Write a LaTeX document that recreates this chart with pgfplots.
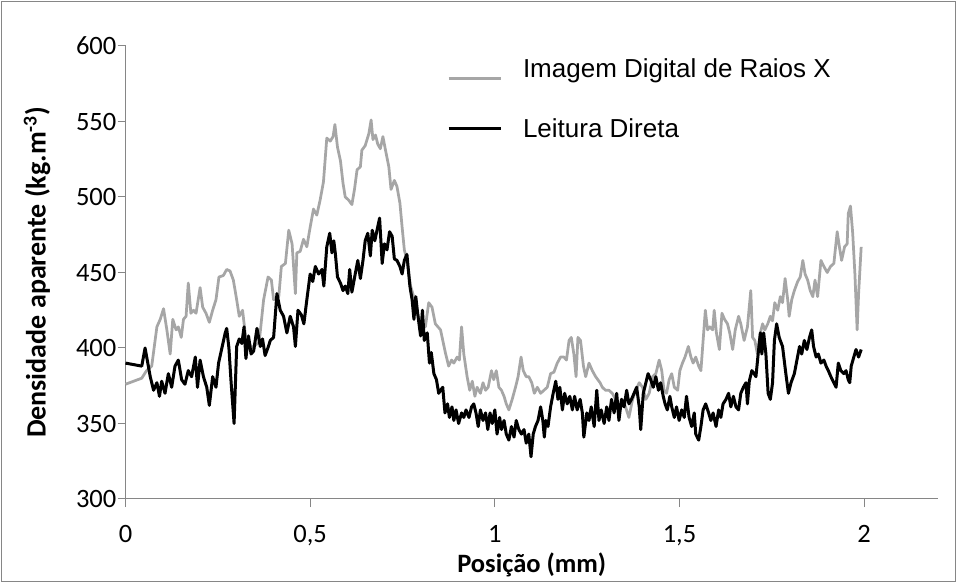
\documentclass[border=0pt]{standalone}
\usepackage{pgfplots}
\pgfplotsset{compat=1.18}
\usepackage{fontspec}
\setmainfont{Carlito}
\newfontfamily\arialfont{Liberation Sans}
\definecolor{axisgray}{RGB}{134,134,134}
\definecolor{linegray}{RGB}{166,166,166}
\begin{document}
\begin{tikzpicture}[x=1pt,y=1pt]
\useasboundingbox (0,0) rectangle (957,583);
\draw[axisgray, line width=1pt] (1.5,1.5) rectangle (955.5,581.5);
\begin{axis}[
  at={(125.5pt,84pt)}, anchor=south west,
  scale only axis, width=812.5pt, height=453pt,
  xmin=0, xmax=2.2, ymin=300, ymax=600,
  axis x line=bottom, axis y line=left,
  axis line style={axisgray, line width=1pt, -},
  xtick={0,0.5,1,1.5,2}, xticklabels={0,{0,5},1,{1,5},2},
  ytick={300,350,400,450,500,550,600},
  tick align=outside, major tick length=8pt,
  tick style={axisgray, line width=1pt},
  /pgf/number format/assume math mode=true,
  ticklabel style={font=\fontsize{26.5}{30}\selectfont},
  yticklabel style={inner sep=0pt, anchor=east, xshift=-1pt},
  xticklabel style={inner sep=0pt, anchor=north, yshift=-18pt},
  xlabel={\textbf{Posição (mm)}},
  ylabel={\textbf{Densidade aparente (kg.m\textsuperscript{-3})}},
  every axis x label/.style={at={(axis description cs:0.5,0)}, anchor=center, yshift=-66pt, font=\fontsize{26.5}{30}\selectfont},
  every axis y label/.style={at={(axis description cs:-0.1089,0.5)}, anchor=center, rotate=90, font=\fontsize{28}{32}\selectfont},
  legend style={at={(rel axis cs:0.3957,0.972)}, anchor=north west, draw=none, fill=none,
    inner sep=0pt, outer sep=0pt, row sep=35.8pt,
    nodes={inner sep=0pt, text height=19pt, text depth=5.5pt},
    font=\arialfont\fontsize{26}{31}\selectfont,
    /tikz/every odd column/.append style={column sep=21pt}},
  legend cell align=left,
  legend image code/.code={\draw[#1] (0pt,0pt) -- (52pt,0pt);},
  clip=false,
]
\addplot[linegray, line width=2.75pt, line join=round, forget plot] coordinates {
(0.000,376) (0.044,380) (0.057,385) (0.071,388) (0.085,414) (0.094,419) (0.103,426) (0.112,412) (0.121,396) (0.128,419)
(0.137,412) (0.143,414) (0.151,407) (0.157,419) (0.164,421) (0.170,443) (0.177,423) (0.184,425) (0.191,423) (0.202,440)
(0.209,427) (0.218,423) (0.227,417) (0.236,425) (0.245,432) (0.253,447) (0.265,448) (0.274,452) (0.283,451) (0.292,445)
(0.301,432) (0.308,421) (0.317,425) (0.324,410) (0.333,404) (0.342,400) (0.352,402) (0.362,404) (0.374,432) (0.386,447)
(0.395,445) (0.401,432) (0.415,434) (0.422,454) (0.433,456) (0.442,478) (0.451,469) (0.460,436) (0.464,463) (0.473,464)
(0.482,472) (0.491,467) (0.500,480) (0.509,492) (0.518,488) (0.527,498) (0.536,510) (0.545,539) (0.5545,537) (0.562,540)
(0.567,548) (0.574,533) (0.582,524) (0.589,509) (0.595,500) (0.604,498) (0.613,495) (0.620,505) (0.627,518) (0.636,520)
(0.640,531) (0.649,534) (0.659,542) (0.665,551) (0.670,538) (0.677,541) (0.683,535) (0.690,532) (0.697,540) (0.704,531)
(0.713,520) (0.719,505) (0.728,511) (0.735,507) (0.743,496) (0.749,480) (0.755,465) (0.762,458) (0.772,441) (0.785,430)
(0.799,414) (0.812,414) (0.821,430) (0.830,427) (0.839,416) (0.853,412) (0.866,397) (0.875,388) (0.883,392) (0.889,390)
(0.898,394) (0.904,392) (0.910,414) (0.916,396) (0.925,381) (0.932,372) (0.939,378) (0.946,368) (0.952,374) (0.961,370)
(0.968,377) (0.975,372) (0.982,374) (0.991,385) (0.997,379) (1.004,385) (1.011,374) (1.018,372) (1.025,368) (1.031,363)
(1.038,359) (1.047,366) (1.056,374) (1.063,381) (1.071,394) (1.077,385) (1.085,381) (1.092,381) (1.100,377) (1.107,370)
(1.115,374) (1.124,370) (1.133,372) (1.142,374) (1.151,383) (1.160,384) (1.169,390) (1.178,394) (1.187,394) (1.194,392)
(1.201,405) (1.207,407) (1.214,396) (1.220,381) (1.225,407) (1.232,405) (1.240,388) (1.246,381) (1.255,390) (1.264,385)
(1.273,381) (1.285,377) (1.291,374) (1.300,372) (1.309,372) (1.318,370) (1.327,366) (1.336,361) (1.345,366) (1.354,361)
(1.363,354) (1.373,366) (1.382,372) (1.391,377) (1.400,374) (1.409,366) (1.418,370) (1.427,381) (1.436,383) (1.445,392)
(1.452,385) (1.458,372) (1.465,370) (1.472,379) (1.479,383) (1.486,374) (1.495,372) (1.501,385) (1.508,390) (1.515,394)
(1.524,401) (1.531,394) (1.537,390) (1.544,394) (1.552,388) (1.558,385) (1.564,405) (1.570,425) (1.576,412) (1.582,414)
(1.590,412) (1.594,425) (1.600,410) (1.608,399) (1.615,423) (1.622,419) (1.630,416) (1.636,410) (1.644,399) (1.651,412)
(1.660,421) (1.666,416) (1.675,405) (1.684,414) (1.693,438) (1.698,407) (1.704,405) (1.711,396) (1.719,410) (1.725,416)
(1.731,412) (1.739,416) (1.746,421) (1.752,418) (1.758,430) (1.766,425) (1.773,434) (1.779,430) (1.786,446) (1.793,432)
(1.797,421) (1.804,432) (1.811,438) (1.820,444) (1.827,447) (1.834,458) (1.840,449) (1.847,445) (1.854,438) (1.861,434)
(1.867,445) (1.874,434) (1.883,458) (1.891,454) (1.900,450) (1.909,454) (1.918,456) (1.927,477) (1.933,467) (1.939,458)
(1.947,467) (1.954,469) (1.957,489) (1.963,494) (1.969,476) (1.975,449) (1.981,412) (1.985,436) (1.992,467)
};
\addplot[black, line width=3pt, line join=round, forget plot] coordinates {
(0.000,390) (0.044,388) (0.053,400) (0.067,381) (0.076,372) (0.085,377) (0.092,368) (0.098,378) (0.107,370) (0.116,383)
(0.125,374) (0.134,388) (0.143,392) (0.152,379) (0.161,376) (0.170,385) (0.179,381) (0.189,394) (0.195,374) (0.202,392)
(0.211,381) (0.220,374) (0.227,362) (0.236,381) (0.245,374) (0.252,390) (0.261,400) (0.270,410) (0.274,413) (0.280,400)
(0.286,377) (0.294,350) (0.301,401) (0.308,406) (0.315,403) (0.321,414) (0.326,393) (0.333,408) (0.340,396) (0.347,398)
(0.356,413) (0.365,401) (0.371,406) (0.378,395) (0.387,401) (0.392,405) (0.401,407) (0.410,436) (0.419,425) (0.428,421)
(0.437,410) (0.446,421) (0.455,414) (0.460,401) (0.467,425) (0.476,422) (0.483,416) (0.491,432) (0.500,449) (0.507,444)
(0.514,454) (0.523,449) (0.532,452) (0.537,441) (0.545,467) (0.553,476) (0.559,463) (0.564,471) (0.568,463) (0.574,447)
(0.582,443) (0.589,438) (0.595,441) (0.602,436) (0.607,452) (0.613,437) (0.622,449) (0.629,458) (0.636,446) (0.643,458)
(0.649,471) (0.656,476) (0.663,461) (0.668,478) (0.675,471) (0.681,478) (0.688,486) (0.695,456) (0.701,469) (0.708,465)
(0.715,477) (0.722,474) (0.728,459) (0.735,458) (0.743,454) (0.749,449) (0.755,458) (0.762,462) (0.770,441) (0.776,432)
(0.781,419) (0.786,434) (0.791,423) (0.799,408) (0.804,425) (0.809,405) (0.817,410) (0.823,390) (0.828,397) (0.835,383)
(0.842,379) (0.848,370) (0.853,372) (0.859,374) (0.865,357) (0.872,363) (0.877,354) (0.884,361) (0.889,352) (0.895,359)
(0.902,350) (0.910,357) (0.916,354) (0.922,359) (0.930,354) (0.937,361) (0.943,363) (0.949,357) (0.955,348) (0.961,359)
(0.968,352) (0.975,357) (0.981,346) (0.987,357) (0.993,350) (1.000,359) (1.006,343) (1.013,354) (1.018,346) (1.025,352)
(1.031,343) (1.038,339) (1.045,348) (1.052,341) (1.058,352) (1.065,346) (1.072,343) (1.079,346) (1.085,337) (1.092,343)
(1.098,328) (1.104,343) (1.110,348) (1.117,352) (1.124,361) (1.130,352) (1.134,341) (1.138,352) (1.144,348) (1.151,361)
(1.158,370) (1.165,378) (1.171,366) (1.176,374) (1.183,359) (1.189,370) (1.196,363) (1.203,368) (1.210,359) (1.216,368)
(1.223,359) (1.231,366) (1.237,357) (1.241,341) (1.249,357) (1.255,352) (1.261,361) (1.269,348) (1.276,372) (1.282,352)
(1.288,359) (1.296,350) (1.303,361) (1.309,352) (1.316,366) (1.323,357) (1.330,370) (1.336,352) (1.343,366) (1.350,361)
(1.357,372) (1.363,363) (1.370,366) (1.377,370) (1.384,374) (1.391,361) (1.395,346) (1.402,370) (1.409,377) (1.415,383)
(1.422,379) (1.429,374) (1.436,381) (1.443,372) (1.449,377) (1.456,368) (1.461,363) (1.467,359) (1.474,368) (1.479,361)
(1.486,354) (1.492,361) (1.499,352) (1.506,359) (1.513,354) (1.519,368) (1.526,354) (1.533,348) (1.540,357) (1.544,343)
(1.552,339) (1.558,348) (1.564,359) (1.571,363) (1.579,357) (1.585,352) (1.591,357) (1.599,348) (1.606,359) (1.612,354)
(1.618,363) (1.626,366) (1.633,370) (1.639,361) (1.646,368) (1.653,361) (1.660,359) (1.666,370) (1.673,374) (1.680,377)
(1.684,363) (1.689,378) (1.696,385) (1.702,383) (1.707,381) (1.713,396) (1.719,410) (1.723,396) (1.728,410) (1.734,396)
(1.740,370) (1.746,366) (1.752,377) (1.757,405) (1.763,416) (1.770,407) (1.779,401) (1.788,383) (1.795,370) (1.802,377)
(1.811,383) (1.818,392) (1.825,401) (1.831,396) (1.838,405) (1.845,399) (1.852,407) (1.858,412) (1.863,401) (1.870,394)
(1.876,396) (1.883,390) (1.891,392) (1.897,388) (1.903,385) (1.910,381) (1.918,377) (1.924,374) (1.930,390) (1.937,385)
(1.945,383) (1.951,385) (1.957,379) (1.961,377) (1.965,388) (1.972,394) (1.978,399) (1.985,394) (1.992,399)
};
\addlegendimage{linegray, line width=2.75pt, yshift=-7.5pt}
\addlegendentry{Imagem Digital de Raios X}
\addlegendimage{black, line width=3pt, yshift=3pt}
\addlegendentry{Leitura Direta}
\end{axis}
\end{tikzpicture}
\end{document}
